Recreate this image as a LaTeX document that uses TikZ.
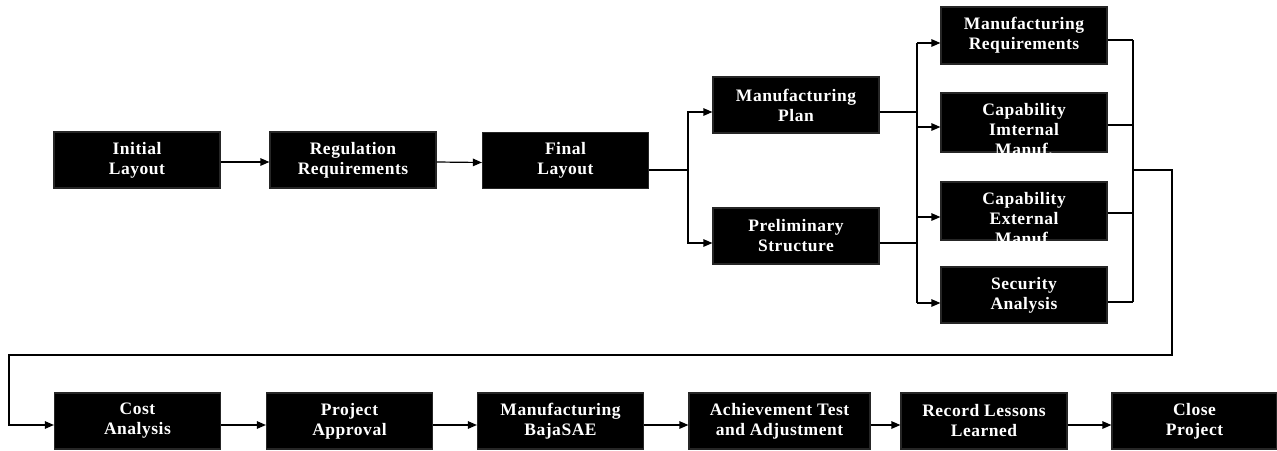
\documentclass[tikz,border=0pt]{standalone}
\usepackage{fontspec}
\setmainfont[LetterSpace=3]{Liberation Serif}
\usetikzlibrary{arrows.meta}
\usepackage{xcolor}

% text that runs past the bottom of its box
\newcommand{\cutbox}[1]{\parbox[c][38pt][t]{160pt}{\centering #1}}

\begin{document}
\begin{tikzpicture}[x=1pt,y=-1pt,
  blk/.style={draw=black!85, fill=black, text=white, inner sep=0,
    minimum width=166pt, minimum height=56pt, align=center,
    font=\bfseries\fontsize{17.5}{20}\selectfont},
  >={Triangle[length=9pt,width=7.5pt]}, line width=1.2pt]
\useasboundingbox (0,0) rectangle (1277,450);

% top row
\node[blk] (il) at (137,160) {Initial\\Layout};
\node[blk] (rr) at (353,160) {Regulation\\Requirements};
\node[blk] (fl) at (565.5,160.5) {Final\\Layout};
\node[blk] (mp) at (796,105) {Manufacturing\\Plan};
\node[blk] (ps) at (796,236) {Preliminary\\Structure};
\node[blk, minimum height=57pt] (mr) at (1024,35.5) {Manufacturing\\Requirements};
\node[blk, minimum height=59pt] (ci) at (1024,122.5) {\cutbox{Capability\\Imternal\\Manuf.}};
\node[blk, minimum height=58pt] (ce) at (1024,211) {\cutbox{Capability\\External\\Manuf.}};
\node[blk] (sa) at (1024,295) {Security\\Analysis};

% bottom row
\node[blk] (ca) at (137.5,421) {Cost\\Analysis};
\node[blk] (pa) at (349.5,421) {Project\\Approval};
\node[blk] (mb) at (560.5,421) {Manufacturing\\BajaSAE};
\node[blk, minimum width=181pt] (at) at (779.5,421) {Achievement Test\\and Adjustment};
\node[blk] (rl) at (984,421) {Record Lessons\\Learned};
\node[blk, minimum width=165pt] (cp) at (1194.5,421) {Close\\Project};

\foreach \a/\b in {il/rr,rr/fl}
  \draw[->] ([yshift=-2pt]\a.east) -- ([yshift=-2pt]\b.west);

% split after the final layout
\coordinate (j1) at (688,170);
\draw (fl.east |- j1) -- (j1);
\draw[->] (j1) |- ([yshift=-7pt]mp.west);
\draw[->] (j1) |- ([yshift=-7pt]ps.west);

% fan out to the four studies
\coordinate (j2) at (917,0);
\path ([yshift=-7pt]mp.east) coordinate (mp-out)
      ([yshift=-7pt]ps.east) coordinate (ps-out);
\draw (mp-out) -- (j2 |- mp-out);
\draw (ps-out) -- (j2 |- ps-out);
\foreach \n/\d in {mr/7.5,ci/4.5,ce/6,sa/8} {
  \path ([yshift=-\d pt]\n.west) coordinate (\n-in);
  \draw[->] (j2 |- \n-in) -- (\n-in);
}
\draw (j2 |- mr-in) -- (j2 |- sa-in);

% gather and loop back to the cost analysis
\coordinate (j3) at (1133,0);
\foreach \n/\d in {mr/4.5,ci/2.5,ce/2,sa/7} {
  \path ([yshift=-\d pt]\n.east) coordinate (\n-out);
  \draw (\n-out) -- (j3 |- \n-out);
}
\draw (j3 |- mr-out) -- (j3 |- sa-out);
\coordinate (k1) at (1172,355);
\coordinate (k2) at (9,355);
\path ([yshift=-4pt]ca.west) coordinate (ca-in);
\draw[->] (j3 |- 0,170) -| (k1) -- (k2) |- (ca-in);

\foreach \a/\b in {ca/pa,pa/mb,mb/at,at/rl,rl/cp}
  \draw[->] ([yshift=-4pt]\a.east) -- ([yshift=-4pt]\b.west);
\end{tikzpicture}
\end{document}
